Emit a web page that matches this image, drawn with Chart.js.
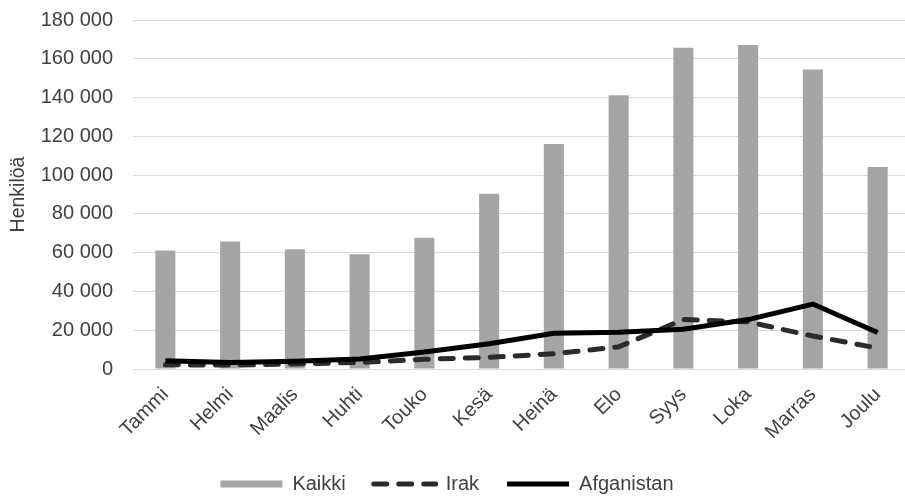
<!DOCTYPE html>
<html>
<head>
<meta charset="utf-8">
<script src="https://cdn.jsdelivr.net/npm/chart.js@4.4.1/dist/chart.umd.min.js"></script>
<style>
    html, body { margin: 0; padding: 0; background: #fff; overflow: hidden; }
    #wrap { width: 912px; height: 496px; }
</style>
</head>
<body>
<div id="wrap"><canvas id="grafico" width="912" height="496"></canvas></div>
<script>
var kuukaudet = ["Tammi", "Helmi", "Maalis", "Huhti", "Touko", "Kesä", "Heinä", "Elo", "Syys", "Loka", "Marras", "Joulu"];
var kaikki = [61100, 65800, 61800, 59200, 67700, 90400, 116100, 141200, 165700, 167100, 154500, 104200];
var irak = [2200, 2000, 2600, 3400, 5000, 6000, 7900, 11400, 25500, 24300, 17000, 10800];
var afganistan = [4300, 3400, 4000, 5200, 8800, 13000, 18400, 18900, 20500, 25500, 33500, 18800];
var yTicks = [0, 20000, 40000, 60000, 80000, 100000, 120000, 140000, 160000, 180000];

var fontti = "'Liberation Sans', Arial, sans-serif";
var tekstiVari = "#404040";

function muotoile(v) {
    return String(v).replace(/\B(?=(\d{3})+(?!\d))/g, " ");
}

// kuukausien nimet saavat ulottua selitteen alueelle, selite hieman alemmas ja vasemmalle
var asettelu = {
    id: "asettelu",
    afterLayout: function (chart) {
        var x = chart.scales.x;
        x.bottom += 30;
        var l = chart.legend;
        if (l) {
            l.top += 8;
            l.bottom += 8;
            l.left -= 8;
            l.right -= 8;
        }
    }
};

var _grafiikka = new Chart(document.getElementById("grafico"), {
    type: "bar",
    data: {
        labels: kuukaudet,
        datasets: [
            { label: "Kaikki", data: kaikki, backgroundColor: "#a5a5a5", barPercentage: 0.31, categoryPercentage: 1, order: 3 },
            { type: "line", label: "Irak", data: irak, borderColor: "#2b2b2b", borderWidth: 5, borderDash: [13, 12], borderCapStyle: "round", pointRadius: 0, tension: 0, order: 2 },
            { type: "line", label: "Afganistan", data: afganistan, borderColor: "#000000", borderWidth: 5, pointRadius: 0, tension: 0, order: 1 }
        ]
    },
    plugins: [asettelu],
    options: {
        responsive: false,
        animation: false,
        layout: { padding: { top: 20, left: 0, right: 2, bottom: 0 } },
        plugins: {
            tooltip: { enabled: false },
            legend: {
                position: "bottom",
                labels: {
                    usePointStyle: true,
                    pointStyleWidth: 62,
                    boxHeight: 7,
                    padding: 28,
                    color: tekstiVari,
                    font: { family: fontti, size: 20 },
                    generateLabels: function (chart) {
                        return chart.data.datasets.map(function (ds, i) {
                            var viiva = ds.type === "line";
                            return {
                                text: ds.label,
                                datasetIndex: i,
                                pointStyle: viiva ? "line" : "rect",
                                fillStyle: viiva ? ds.borderColor : ds.backgroundColor,
                                strokeStyle: viiva ? ds.borderColor : ds.backgroundColor,
                                lineWidth: viiva ? 5 : 0,
                                lineDash: ds.borderDash || [],
                                lineCap: viiva && ds.borderDash ? "round" : "butt",
                                fontColor: tekstiVari
                            };
                        });
                    }
                }
            }
        },
        scales: {
            x: {
                grid: { display: false },
                border: { color: "#d9d9d9", width: 1 },
                ticks: {
                    color: tekstiVari,
                    font: { family: fontti, size: 20 },
                    maxRotation: 45,
                    minRotation: 45,
                    padding: 6
                },
                afterFit: function (scale) { scale.height = 69; }
            },
            y: {
                min: 0,
                max: 180000,
                afterBuildTicks: function (scale) {
                    scale.ticks = yTicks.map(function (v) { return { value: v }; });
                },
                grid: { color: "#d9d9d9", lineWidth: 1, drawTicks: false },
                border: { display: false },
                ticks: {
                    color: tekstiVari,
                    font: { family: fontti, size: 20 },
                    padding: 20,
                    callback: function (v) { return muotoile(v); }
                },
                title: {
                    display: true,
                    text: "Henkilöä",
                    color: tekstiVari,
                    font: { family: fontti, size: 19.5 },
                    padding: { top: 7, bottom: 0 }
                },
                afterFit: function (scale) {
                    scale.width = 133;
                    scale.paddingTop = 12;
                    scale.paddingBottom = 12;
                }
            }
        }
    }
});
</script>
</body>
</html>
